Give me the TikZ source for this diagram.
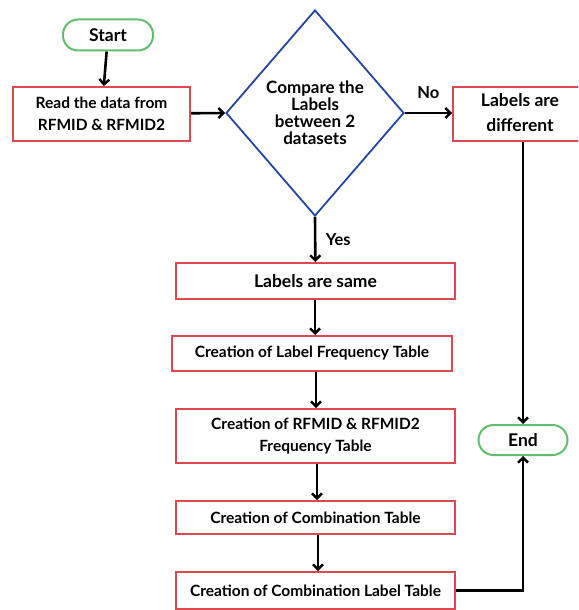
\documentclass[tikz,border=0pt]{standalone}
\usepackage{fontspec}
\setmainfont{Lato}
\usetikzlibrary{shapes.geometric,arrows.meta}
\definecolor{boxred}{RGB}{224,72,80}
\definecolor{termgreen}{RGB}{96,190,110}
\definecolor{decblue}{RGB}{35,70,160}
\tikzset{
  px/.style={x=1pt,y=-1pt},
  proc/.style={draw=boxred,line width=2pt,fill=white,inner sep=0pt,align=center,font=\bfseries\fontsize{15.5}{22}\selectfont},
  big/.style={font=\bfseries\fontsize{17.5}{25}\selectfont},
  term/.style={draw=termgreen,line width=2pt,rounded corners=15pt,inner sep=0pt,font=\bfseries\fontsize{17.5}{20}\selectfont},
  dec/.style={draw=decblue,line width=1.8pt,diamond,aspect=0.86,inner sep=0pt,align=center,font=\bfseries\fontsize{17}{17}\selectfont},
  conn/.style={line width=2.6pt,-{Straight Barb[length=5pt,width=10pt,line width=2.4pt]}},
  lab/.style={font=\bfseries\fontsize{16.5}{18}\selectfont}
}
\begin{document}
\begin{tikzpicture}[px]
\useasboundingbox (0,0) rectangle (578,610);
\clip (0,0) rectangle (578,610);
\node[term,minimum width=90pt,minimum height=31pt] (start) at (108,35) {Start};
\node[proc,minimum width=177pt,minimum height=54pt] (read) at (101.5,114) {Read the data from\\RFMID \& RFMID2};
\node[dec,minimum width=178pt,minimum height=206pt] (cmp) at (315,113) {Compare the\\Labels\\between 2\\datasets};
\node[proc,minimum width=137pt,minimum height=54pt,anchor=west] (diff) at (452,114) {};
\node[proc,big,draw=none,fill=none] (difft) at (520,113) {Labels are\\different};
\node[proc,big,minimum width=279pt,minimum height=36pt] (same) at (315.5,281) {Labels are same};
\node[proc,minimum width=280pt,minimum height=35pt] (lft) at (312,353.5) {Creation of Label Frequency Table};
\node[proc,minimum width=279pt,minimum height=54pt] (rft) at (315.5,436) {Creation of RFMID \& RFMID2\\Frequency Table};
\node[proc,minimum width=279pt,minimum height=33pt] (ct) at (315.5,517.5) {Creation of Combination Table};
\node[proc,minimum width=279pt,minimum height=37pt] (clt) at (315.5,590.5) {Creation of Combination Label Table};
\node[term,minimum width=89pt,minimum height=30pt] (end) at (523,440) {End};
\draw[conn] (start) -- (read);
\draw[conn] (read) -- (cmp.west);
\draw[conn] (cmp.east) -- node[lab,above,yshift=10pt] {No} (cmp.east -| diff.west);
\draw[conn] (cmp.south) -- node[lab,right,xshift=6pt] {Yes} (same);
\draw[conn] (same.south -| 315,0) -- (lft.north -| 315,0);
\draw[conn] (lft.south -| 316,0) -- (rft.north -| 316,0);
\draw[conn] (rft.south -| 317,0) -- (ct.north -| 317,0);
\draw[conn] (ct.south -| 318,0) -- (clt.north -| 318,0);
\draw[conn] (diff.south -| end.north) -- (end.north);
\draw[conn] (clt.east) -| (end.south);
\end{tikzpicture}
\end{document}
